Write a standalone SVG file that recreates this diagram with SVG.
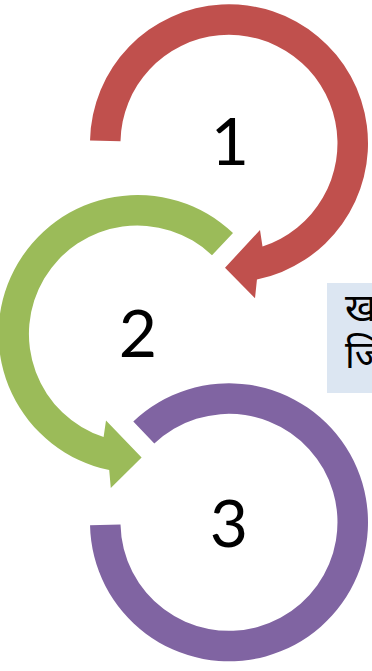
<svg xmlns="http://www.w3.org/2000/svg" width="372" height="671" viewBox="0 0 372 671">
<style>
.num{font-family:Lato,"DejaVu Sans",sans-serif;font-size:66px;fill:#000;text-anchor:middle}
.dev{font-family:"Noto Sans Devanagari","Noto Sans","Noto Sans CJK SC",sans-serif;font-size:38px;fill:#000}
</style>
<rect width="372" height="671" fill="#fff"/>
<g id="connectors"/>
<g id="node1">
<path fill="#C0504D" d="M 90.03,140.6 A 139 139 0 1 1 256.95,279.46 L 255,298.3 L 225,267.7 L 260,230 L 262.5,246.5 A 108.5 108.5 0 1 0 120.5,141.2 Z"/>
<text class="num" x="230" y="165">1</text>
</g>
<g id="node2">
<path fill="#9BBB59" d="M 233,233 A 139 139 0 1 0 109.2,470.1 L 110.8,488 L 141.6,457.5 L 106,420.5 L 103.6,437.1 A 108.5 108.5 0 1 1 212,255.2 Z"/>
<text class="num" x="138" y="357">2</text>
</g>
<g id="node3">
<path fill="#8064A2" d="M 133.3,421.5 A 139 139 0 1 1 90.03,525.2 L 120.5,524.6 A 108.5 108.5 0 1 0 154.3,443.6 Z"/>
<text class="num" x="229" y="547">3</text>
</g>
<g id="textbox">
<rect x="327" y="283" width="50" height="110" fill="#DCE6F2"/>
<text class="dev" x="345" y="321">ख</text>
<text class="dev" x="345" y="368">जि</text>
</g>
</svg>
